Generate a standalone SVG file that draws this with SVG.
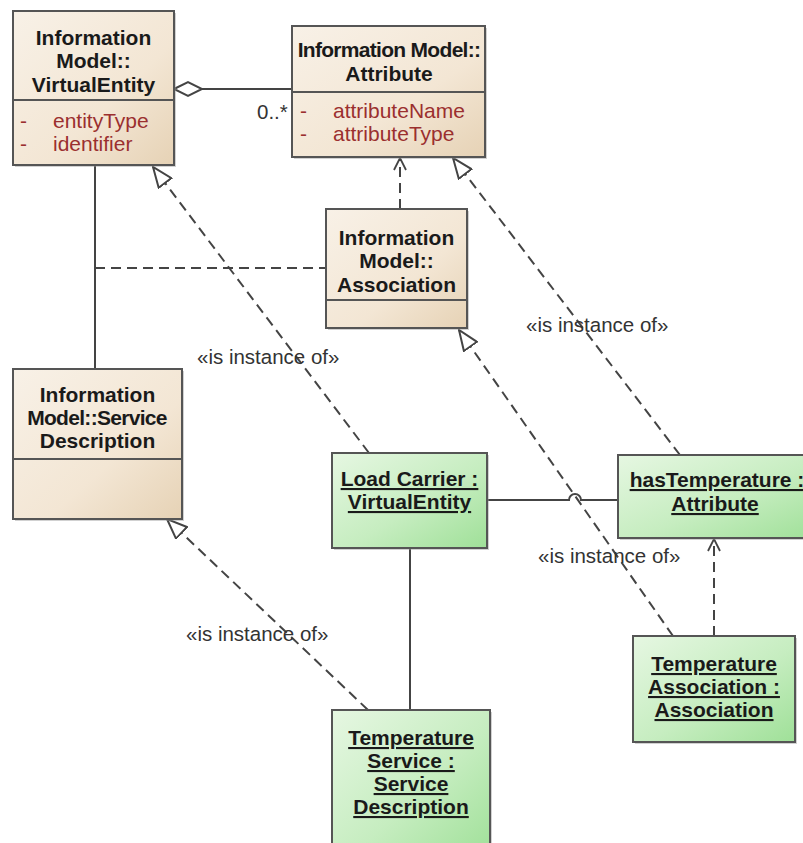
<svg xmlns="http://www.w3.org/2000/svg" width="803" height="843" viewBox="0 0 803 843">
  <defs>
    <linearGradient id="beige" x1="0" y1="0" x2="1" y2="1">
      <stop offset="0" stop-color="#f8f1e7"/>
      <stop offset="0.6" stop-color="#f3e6d4"/>
      <stop offset="1" stop-color="#e6d2b5"/>
    </linearGradient>
    <linearGradient id="green" x1="0" y1="0" x2="1" y2="1">
      <stop offset="0" stop-color="#e6f7e2"/>
      <stop offset="0.55" stop-color="#c6edc0"/>
      <stop offset="1" stop-color="#9fe098"/>
    </linearGradient>
    <!-- hollow triangle for instance-of (realisation) links -->
    <marker id="tri" viewBox="0 0 22 18" refX="21" refY="9" markerWidth="22" markerHeight="18" markerUnits="userSpaceOnUse" orient="auto">
      <path d="M1,1 L21,9 L1,17 Z" fill="#fff" stroke="#444" stroke-width="2" stroke-dasharray="none"/>
    </marker>
    <!-- open arrow for dependencies -->
    <marker id="open" viewBox="0 0 14 14" refX="13" refY="7" markerWidth="14" markerHeight="14" markerUnits="userSpaceOnUse" orient="auto">
      <path d="M1,1 L13,7 L1,13" fill="none" stroke="#444" stroke-width="1.8" stroke-dasharray="none"/>
    </marker>
  </defs>
  <style>
    .box { stroke: #555; stroke-width: 2; }
    .im { fill: url(#beige); }
    .inst { fill: url(#green); }
    .shadow { fill: #999; opacity: 0.45; }
    .div { stroke: #555; stroke-width: 2; }
    .title { font-family: "Liberation Sans", Arial, sans-serif; font-size: 21px; font-weight: bold; fill: #1a1a1a; text-anchor: middle; }
    .tight { letter-spacing: -0.7px; }
    .uline { text-decoration: underline; }
    .attr { font-family: "Liberation Sans", Arial, sans-serif; font-size: 21px; fill: #9b2f2f; }
    .lbl { font-family: "Liberation Sans", Arial, sans-serif; font-size: 20.5px; fill: #333; }
    .solid { fill: none; stroke: #444; stroke-width: 2; }
    .dash { fill: none; stroke: #444; stroke-width: 2; stroke-dasharray: 10 6; }
  </style>

  <rect width="803" height="843" fill="#fff"/>

  <!-- connectors -->
  <g id="connectors">
    <!-- aggregation: VirtualEntity owns Attribute -->
    <line class="solid" x1="202" y1="89" x2="292" y2="89"/>
    <polygon points="174,89 188,82 202,89 188,96" fill="#fff" stroke="#444" stroke-width="2"/>
    <text class="lbl" x="257" y="119">0..*</text>
    <!-- association VirtualEntity to ServiceDescription, with association class -->
    <line class="solid" x1="95" y1="166" x2="95" y2="369"/>
    <line class="dash" x1="95" y1="268" x2="326" y2="268"/>
    <!-- Association depends on Attribute -->
    <line class="dash" x1="400" y1="209" x2="400" y2="158" marker-end="url(#open)"/>
    <!-- instance-of links -->
    <line class="dash" x1="369" y1="453" x2="153" y2="167" marker-end="url(#tri)"/>
    <line class="dash" x1="680" y1="455" x2="453" y2="158" marker-end="url(#tri)"/>
    <line class="dash" x1="673" y1="636" x2="459" y2="330" marker-end="url(#tri)"/>
    <line class="dash" x1="368" y1="710" x2="167" y2="519" marker-end="url(#tri)"/>
    <text class="lbl" x="197" y="364">«is instance of»</text>
    <text class="lbl" x="526" y="332">«is instance of»</text>
    <text class="lbl" x="538" y="563">«is instance of»</text>
    <text class="lbl" x="186" y="641">«is instance of»</text>
    <!-- Load Carrier to hasTemperature, hopping over the crossing dashed link -->
    <path class="solid" d="M487,500 H569 A6,6 0 0 1 581,500 H618"/>
    <!-- Load Carrier to Temperature Service -->
    <line class="solid" x1="410" y1="548" x2="410" y2="710"/>
    <!-- Temperature Association depends on hasTemperature -->
    <line class="dash" x1="714" y1="636" x2="714" y2="539" marker-end="url(#open)"/>
  </g>

  <!-- class nodes -->
  <g id="virtual-entity">
    <rect class="shadow" x="15" y="13" width="161" height="154"/>
    <rect class="box im" x="13" y="11" width="161" height="154"/>
    <line class="div" x1="13" y1="100" x2="174" y2="100"/>
    <text class="title" x="93.5" y="45">Information</text>
    <text class="title" x="93.5" y="68">Model::</text>
    <text class="title" x="93.5" y="92">VirtualEntity</text>
    <text class="attr" x="20" y="128">-</text>
    <text class="attr" x="53" y="128">entityType</text>
    <text class="attr" x="20" y="151">-</text>
    <text class="attr" x="53" y="151">identifier</text>
  </g>

  <g id="attribute">
    <rect class="shadow" x="294" y="28" width="193" height="131"/>
    <rect class="box im" x="292" y="26" width="193" height="131"/>
    <line class="div" x1="292" y1="92" x2="485" y2="92"/>
    <text class="title tight" x="389" y="57">Information Model::</text>
    <text class="title" x="389" y="81">Attribute</text>
    <text class="attr" x="300" y="118">-</text>
    <text class="attr" x="333" y="118">attributeName</text>
    <text class="attr" x="300" y="141">-</text>
    <text class="attr" x="333" y="141">attributeType</text>
  </g>

  <g id="association">
    <rect class="shadow" x="328" y="211" width="141" height="119"/>
    <rect class="box im" x="326" y="209" width="141" height="119"/>
    <line class="div" x1="326" y1="300" x2="467" y2="300"/>
    <text class="title" x="396.5" y="245">Information</text>
    <text class="title" x="396.5" y="268">Model::</text>
    <text class="title" x="396.5" y="292">Association</text>
  </g>

  <g id="service-description">
    <rect class="shadow" x="15" y="371" width="169" height="150"/>
    <rect class="box im" x="13" y="369" width="169" height="150"/>
    <line class="div" x1="13" y1="459" x2="182" y2="459"/>
    <text class="title" x="97.5" y="402">Information</text>
    <text class="title tight" x="97" y="425">Model::Service</text>
    <text class="title" x="97.5" y="448">Description</text>
  </g>

  <!-- instance nodes -->
  <g id="load-carrier">
    <rect class="shadow" x="334" y="455" width="155" height="95"/>
    <rect class="box inst" x="332" y="453" width="155" height="95"/>
    <text class="title uline" x="409.5" y="486">Load Carrier :</text>
    <text class="title uline" x="409.5" y="509">VirtualEntity</text>
  </g>

  <g id="has-temperature">
    <rect class="shadow" x="620" y="457" width="200" height="83"/>
    <rect class="box inst" x="618" y="455" width="200" height="83"/>
    <text class="title uline" x="717" y="487">hasTemperature :</text>
    <text class="title uline" x="715" y="511">Attribute</text>
  </g>

  <g id="temperature-association">
    <rect class="shadow" x="635" y="638" width="162" height="106"/>
    <rect class="box inst" x="633" y="636" width="162" height="106"/>
    <text class="title uline" x="714" y="671">Temperature</text>
    <text class="title uline" x="714" y="694">Association :</text>
    <text class="title uline" x="714" y="717">Association</text>
  </g>

  <g id="temperature-service">
    <rect class="shadow" x="334" y="712" width="158" height="150"/>
    <rect class="box inst" x="332" y="710" width="158" height="150"/>
    <text class="title uline" x="411" y="745">Temperature</text>
    <text class="title uline" x="411" y="768">Service :</text>
    <text class="title uline" x="411" y="791">Service</text>
    <text class="title uline" x="411" y="814">Description</text>
  </g>
</svg>
